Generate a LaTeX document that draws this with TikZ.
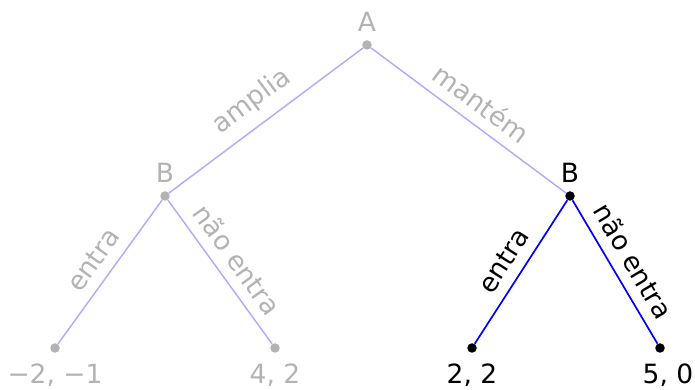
\documentclass[tikz,border=0pt]{standalone}
\usepackage{fontspec}
\setmainfont{DejaVu Sans}
\usepackage{xcolor}
\usetikzlibrary{positioning}
\definecolor{treeGray}{HTML}{B3B3B3}
\definecolor{treeLine}{HTML}{AAAAFF}
\definecolor{treeBlue}{HTML}{0000FF}

\begin{document}
\begin{tikzpicture}[x=1pt,y=1pt,font=\fontsize{26.5}{30}\selectfont,
  dot/.style={circle,fill=#1,minimum size=9.5pt,inner sep=0pt},
  off/.style={treeLine,line width=1.4pt},
  on/.style={treeBlue,line width=1.7pt},
  lbl/.style={midway,sloped,above=7pt}]
\useasboundingbox (0,0) rectangle (695,390);
% --- decision nodes ---
  \node[dot=treeGray] (A) at (367,345) {};
  \node[dot=treeGray] (bl) at (165,194) {};
  \node[dot=black] (br) at (570,194) {};
  \node[treeGray,above=5pt of A] (labA) {A};
  \node[treeGray,above=5pt of bl] (labBl) {B};
  \node[above=5pt of br] (labBr) {B};
% --- payoffs ---
  \node[dot=treeGray] (p1) at (55,42) {};
  \node[dot=treeGray] (p2) at (275,42) {};
  \node[dot=black] (p3) at (472,42) {};
  \node[dot=black] (p4) at (660,42) {};
  \node[treeGray,below=7pt of p1] (labP1) {−2, −1};
  \node[treeGray,below=7pt of p2] (labP2) {4, 2};
  \node[below=7pt of p3] (labP3) {2, 2};
  \node[below=7pt of p4,xshift=8pt] (labP4) {5, 0};
% --- branches ---
  \draw[off] (A) -- node[lbl,treeGray] {amplia} (bl);
  \draw[off] (A) -- node[lbl,treeGray] {mantém} (br);
  \draw[off] (bl) -- node[lbl,treeGray] {entra} (p1);
  \draw[off] (bl) -- node[lbl,treeGray] {não entra} (p2);
  \draw[on] (br) -- node[lbl,black] {entra} (p3);
  \draw[on] (br) -- node[lbl,black] {não entra} (p4);
\end{tikzpicture}
\end{document}
